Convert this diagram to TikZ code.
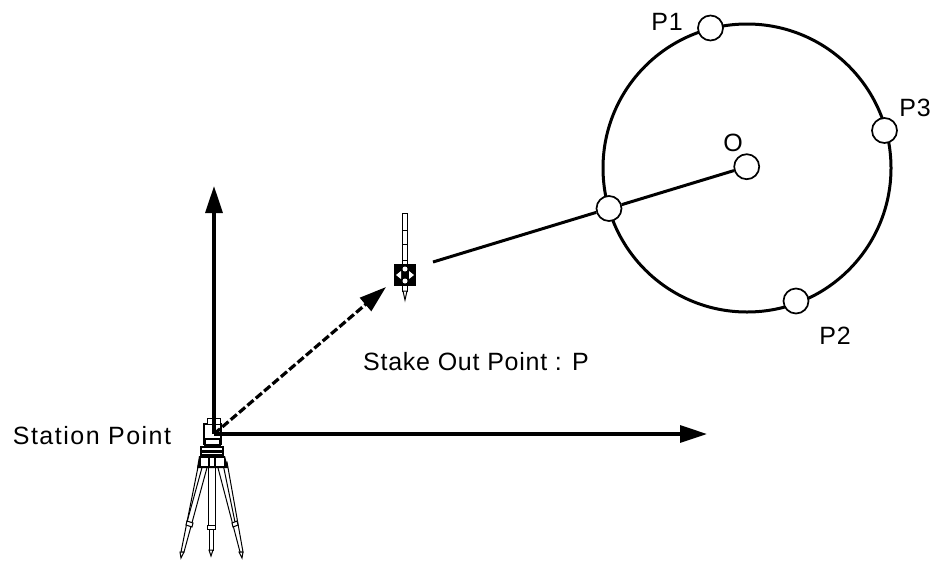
\documentclass[tikz,border=0pt]{standalone}
\usepackage{fontspec}
\setmainfont[LetterSpace=3]{Liberation Sans}
\usetikzlibrary{arrows.meta}

\begin{document}
\begin{tikzpicture}[
  x=1pt,
  y=-1pt,
  >={Triangle[length=27pt,width=17pt]},
  every node/.style={font=\fontsize{25}{27}\selectfont,inner sep=0pt},
  pointcirc/.style={draw,circle,fill=white,line width=1.7pt,minimum size=25pt},
  axis/.style={->,line width=3.2pt},
  sight/.style={->,line width=3.2pt,dash pattern=on 8pt off 3pt},
  radius/.style={line width=3pt},
  thinpart/.style={line width=1pt,fill=white},
  thickpart/.style={line width=1.4pt,fill=white}
]
\useasboundingbox (0,0) rectangle (933,560);

% Circle through the points
\coordinate (centre) at (747,168);
\draw[radius] (centre) circle (144);

% Tripod legs
\draw[thinpart] (199,462) -- (208,464) -- (184,552) -- (181,552) -- cycle;
\draw[thinpart] (203,464) -- (187,522);
\draw[thinpart] (217,464) -- (227,462) -- (243,552) -- (240,552) -- cycle;
\draw[thinpart] (223,464) -- (235,522);
\draw[thinpart] (208,465) rectangle (215,525);
\draw[thinpart] (209,527) rectangle (213,550);
\draw[thinpart] (207,525) rectangle (215,529);
\draw[thinpart] (187,521) -- (193,523) -- (192,527) -- (186,525) -- cycle;
\draw[thinpart] (232,523) -- (237,521) -- (238,525) -- (233,527) -- cycle;
\draw[thinpart] (180,552) -- (184,552) -- (181,558) -- cycle;
\draw[thinpart] (239,552) -- (243,552) -- (242,558) -- cycle;
\draw[thinpart] (209,550) -- (213,550) -- (211,556) -- cycle;

% Tripod head
\fill (199,456) -- (225,456) -- (228,468) -- (197,468) -- cycle;
\fill[white] (201,458) rectangle (208,466);
\fill[white] (210,458) rectangle (214,466);
\fill[white] (216,458) rectangle (224,466);
\draw[thickpart] (201,447) rectangle (223,455);
\fill (202,450) rectangle (222,453);

% Instrument
\draw[thickpart] (204,424) rectangle (221,444);
\draw[thinpart] (207,418) rectangle (220,424);
\draw[thickpart] (205,439) rectangle (220,445);

% Prism pole
\draw[thinpart] (402,213) rectangle (407,291);
\draw[thinpart] (402,230) -- (407,230);
\draw[thinpart] (402,244) -- (407,244);
\draw[thinpart] (402,260) -- (407,260);
\draw[thinpart] (403,291) -- (407,291) -- (405,300) -- cycle;
\fill (394,264) rectangle (416,286);
\fill[white] (405,269) circle (2.5);
\fill[white] (405,281) circle (2.5);
\fill[white] (396,275) -- (401,271) -- (401,279) -- cycle;
\fill[white] (414,275) -- (409,271) -- (409,279) -- cycle;

% Axes and sight line
\coordinate (station) at (214,434);
\coordinate (northend) at (214,186);
\coordinate (eastend) at (707,434);
\coordinate (stakeend) at (386,287);
\coordinate (stakepoint) at (433,262);
\draw[axis] (station) -- (northend);
\draw[axis] (station) -- (eastend);
\draw[sight] (station) -- (stakeend);

% Points on the circle
\node[pointcirc] (po) at (746.7,166.7) {};
\node[pointcirc] (pa) at (710.5,28) {};
\node[pointcirc] (pb) at (796,301) {};
\node[pointcirc] (pc) at (884.5,130.5) {};
\node[pointcirc] (pnear) at (609,208.5) {};
\draw[radius] (stakepoint) -- (pnear);
\draw[radius] (pnear) -- (po);

% Labels
\node (lblo) at (733,143) {O};
\node (lbla) at (667,22) {P1};
\node (lblb) at (835,336) {P2};
\node (lblc) at (915,108) {P3};
\node (lblstake) at (476,362) {Stake Out Point : P};
\node[font=\fontsize{25}{27}\selectfont\addfontfeature{LetterSpace=6}] (lblstation) at (92,436) {Station Point};
\end{tikzpicture}
\end{document}
